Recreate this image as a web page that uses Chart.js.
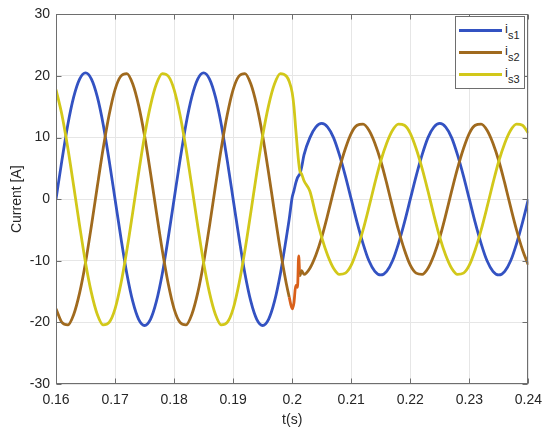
<!DOCTYPE html>
<html>
<head>
<meta charset="utf-8">
<script src="https://cdn.jsdelivr.net/npm/chart.js@4"></script>
<style>
    html, body { margin: 0; padding: 0; background: #fff; }
    #wrap { position: relative; width: 550px; height: 434px; }
    #legend {
        position: absolute; left: 455px; top: 16px; width: 68px; height: 71px;
        border: 1px solid #6e6e6e; background: #fff;
        font-family: 'Liberation Sans', Arial, sans-serif; color: #262626;
    }
    .swatch { position: absolute; left: 3px; width: 43px; height: 3px; }
    .lbl { position: absolute; left: 49px; font-size: 13px; line-height: 13px; white-space: nowrap; }
    .lbl sub { font-size: 11px; vertical-align: -6px; line-height: 0; }
</style>
</head>
<body>
<div id="wrap">
    <canvas id="currentChart" width="550" height="434"></canvas>
    <div id="legend"></div>
</div>
<script>
// sample times (s)
const times = [
    0.160, 0.161, 0.162, 0.163, 0.164, 0.165, 0.166, 0.167, 0.168, 0.169,
    0.170, 0.171, 0.172, 0.173, 0.174, 0.175, 0.176, 0.177, 0.178, 0.179,
    0.180, 0.181, 0.182, 0.183, 0.184, 0.185, 0.186, 0.187, 0.188, 0.189,
    0.190, 0.191, 0.192, 0.193, 0.194, 0.195, 0.196, 0.197, 0.198, 0.199,
    0.1995, 0.2000, 0.2003, 0.2006, 0.2009, 0.2011, 0.2013, 0.2016,
    0.202, 0.203, 0.204, 0.205, 0.206, 0.207, 0.208, 0.209, 0.210,
    0.211, 0.212, 0.213, 0.214, 0.215, 0.216, 0.217, 0.218, 0.219, 0.220,
    0.221, 0.222, 0.223, 0.224, 0.225, 0.226, 0.227, 0.228, 0.229, 0.230,
    0.231, 0.232, 0.233, 0.234, 0.235, 0.236, 0.237, 0.238, 0.239, 0.240
];

// phase currents (A)
const is1 = [
    0, 6.3, 12.1, 16.6, 19.5, 20.5, 19.5, 16.6, 12.1, 6.3,
    0, -6.3, -12.1, -16.6, -19.5, -20.5, -19.5, -16.6, -12.1, -6.3,
    0, 6.3, 12.1, 16.6, 19.5, 20.5, 19.5, 16.6, 12.1, 6.3,
    0, -6.3, -12.1, -16.6, -19.5, -20.5, -19.5, -16.6, -12.1, -6.3,
    -3.2, 0.3, 1.4, 2.6, 3.5, 3.8, 4.1, 5.2,
    7.2, 10.0, 11.7, 12.3, 11.7, 10.0, 7.2, 3.8, 0,
    -3.8, -7.2, -10.0, -11.7, -12.3, -11.7, -10.0, -7.2, -3.8, 0,
    3.8, 7.2, 10.0, 11.7, 12.3, 11.7, 10.0, 7.2, 3.8, 0,
    -3.8, -7.2, -10.0, -11.7, -12.3, -11.7, -10.0, -7.2, -3.8, 0
];
const is2 = [
    -17.8, -20.0, -20.4, -18.7, -15.2, -10.3, -4.3, 2.1, 8.3, 13.7,
    17.8, 20.0, 20.4, 18.7, 15.2, 10.3, 4.3, -2.1, -8.3, -13.7,
    -17.8, -20.0, -20.4, -18.7, -15.2, -10.3, -4.3, 2.1, 8.3, 13.7,
    17.8, 20.0, 20.4, 18.7, 15.2, 10.3, 4.3, -2.1, -8.3, -13.7,
    -15.9, -17.8, -16.8, -14.0, -14.3, -9.2, -12.4, -11.6,
    -12.2, -11.2, -9.1, -6.2, -2.6, 1.3, 5.0, 8.2, 10.7,
    12.0, 12.2, 11.2, 9.1, 6.2, 2.6, -1.3, -5.0, -8.2, -10.7,
    -12.0, -12.2, -11.2, -9.1, -6.2, -2.6, 1.3, 5.0, 8.2, 10.7,
    12.0, 12.2, 11.2, 9.1, 6.2, 2.6, -1.3, -5.0, -8.2, -10.7
];
const is3 = [
    17.8, 13.7, 8.3, 2.1, -4.3, -10.3, -15.2, -18.7, -20.4, -20.0,
    -17.8, -13.7, -8.3, -2.1, 4.3, 10.3, 15.2, 18.7, 20.4, 20.0,
    17.8, 13.7, 8.3, 2.1, -4.3, -10.3, -15.2, -18.7, -20.4, -20.0,
    -17.8, -13.7, -8.3, -2.1, 4.3, 10.3, 15.2, 18.7, 20.4, 20.0,
    19.1, 17.3, 15.0, 11.4, 8.0, 6.0, 4.6, 4.1,
    3.0, 1.3, -2.6, -6.2, -9.1, -11.2, -12.2, -12.0, -10.7,
    -8.2, -5.0, -1.3, 2.6, 6.2, 9.1, 11.2, 12.2, 12.0, 10.7,
    8.2, 5.0, 1.3, -2.6, -6.2, -9.1, -11.2, -12.2, -12.0, -10.7,
    -8.2, -5.0, -1.3, 2.6, 6.2, 9.1, 11.2, 12.2, 12.0, 10.7
];

const seriesSubs = ['s1', 's2', 's3'];
const seriesColors = ['#3352C2', '#A06A1E', '#D2C81A'];
const xTicks = [0.16, 0.17, 0.18, 0.19, 0.2, 0.21, 0.22, 0.23, 0.24];
const yTicks = [-30, -20, -10, 0, 10, 20, 30];

const axisColor = '#6e6e6e';
const textColor = '#262626';

function toPoints(values) {
    return values.map((v, i) => ({ x: times[i], y: v }));
}

// box around the axes with inward tick marks (matlab look)
const axesBox = {
    id: 'axesBox',
    afterDraw(chart) {
        const ctx = chart.ctx;
        const a = chart.chartArea;
        const xs = chart.scales.x, ys = chart.scales.y;
        const L = Math.round(a.left) + 0.5, R = Math.round(a.right) - 0.5;
        const T = Math.round(a.top) + 0.5, B = Math.round(a.bottom) - 0.5;
        ctx.save();
        ctx.strokeStyle = axisColor;
        ctx.lineWidth = 1;
        ctx.strokeRect(L, T, R - L, B - T);
        ctx.beginPath();
        xTicks.forEach(v => {
            const px = Math.round(xs.getPixelForValue(v)) + 0.5;
            ctx.moveTo(px, B); ctx.lineTo(px, B - 5);
            ctx.moveTo(px, T); ctx.lineTo(px, T + 5);
        });
        yTicks.forEach(v => {
            const py = Math.round(ys.getPixelForValue(v)) + 0.5;
            ctx.moveTo(L, py); ctx.lineTo(L + 5, py);
            ctx.moveTo(R, py); ctx.lineTo(R - 5, py);
        });
        ctx.stroke();
        ctx.restore();
    }
};

Chart.defaults.font.family = "'Liberation Sans', Arial, sans-serif";
Chart.defaults.font.size = 14;
Chart.defaults.color = textColor;

const ctx = document.getElementById('currentChart').getContext('2d');
const chart = new Chart(ctx, {
    type: 'line',
    data: {
        datasets: [{
            label: 'is1',
            data: toPoints(is1),
            borderColor: seriesColors[0],
            order: 3
        }, {
            label: 'is2',
            data: toPoints(is2),
            borderColor: seriesColors[1],
            order: 2,
            segment: {
                // the short orange bit of the transient dip
                borderColor: c => (c.p0.parsed.x >= 0.1995 && c.p1.parsed.x <= 0.2013) ? '#D9601A' : undefined
            }
        }, {
            label: 'is3',
            data: toPoints(is3),
            borderColor: seriesColors[2],
            order: 1
        }]
    },
    options: {
        responsive: false,
        animation: false,
        events: [],
        layout: { padding: { top: 12, right: 20, bottom: 0, left: 0 } },
        elements: {
            point: { radius: 0 },
            line: { borderWidth: 2.8, cubicInterpolationMode: 'monotone', fill: false }
        },
        datasets: { line: { clip: 0 } },
        plugins: { legend: { display: false }, tooltip: { enabled: false } },
        scales: {
            x: {
                type: 'linear',
                min: 0.16,
                max: 0.24,
                afterFit: s => { s.height = 50; },
                afterBuildTicks: s => { s.ticks = xTicks.map(v => ({ value: v })); },
                ticks: {
                    padding: 8,
                    maxRotation: 0,
                    autoSkip: false,
                    callback: v => String(parseFloat(v.toFixed(2)))
                },
                grid: { color: '#e6e6e6', drawTicks: false },
                border: { display: false },
                title: { display: true, text: 't(s)', padding: { top: 0, bottom: 5 } }
            },
            y: {
                min: -30,
                max: 30,
                afterFit: s => { s.width = 56; },
                afterBuildTicks: s => { s.ticks = yTicks.map(v => ({ value: v })); },
                ticks: { padding: 6 },
                grid: { color: '#e6e6e6', drawTicks: false },
                border: { display: false },
                title: { display: true, text: 'Current [A]', padding: { top: 9, bottom: 0 } }
            }
        }
    },
    plugins: [axesBox]
});

// legend with subscripts
const legend = document.getElementById('legend');
seriesSubs.forEach((sub, i) => {
    const line = document.createElement('div');
    line.className = 'swatch';
    line.style.top = (12 + i * 22) + 'px';
    line.style.background = seriesColors[i];
    legend.appendChild(line);

    const lbl = document.createElement('div');
    lbl.className = 'lbl';
    lbl.style.top = (5 + i * 22) + 'px';
    lbl.innerHTML = 'i<sub>' + sub + '</sub>';
    legend.appendChild(lbl);
});
</script>
</body>
</html>
